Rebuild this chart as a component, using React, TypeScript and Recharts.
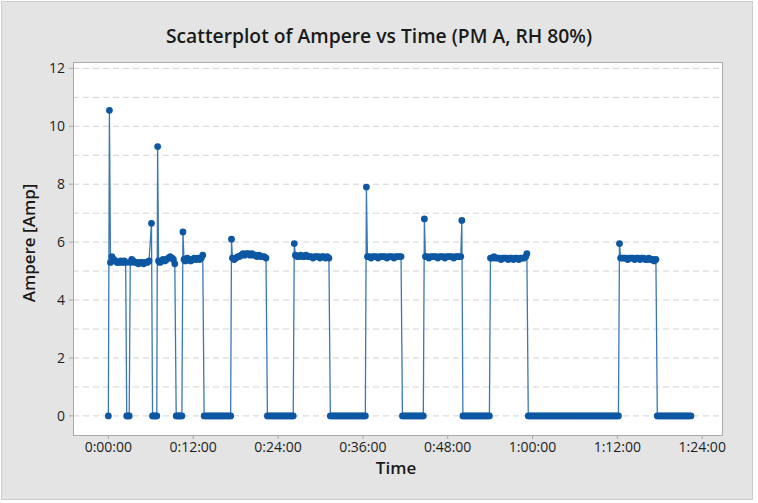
import React from "react";
import { LineChart, Line, XAxis, YAxis, CartesianGrid } from "recharts";

type P = [number, number]; // [time in minutes, ampere]

// "On" periods (including the inrush spike at the start of each)
const on01: P[] = [[0.15, 10.55], [0.3, 5.3], [0.5, 5.5], [0.75, 5.4], [1.0, 5.35], [1.25, 5.3], [1.5, 5.3], [1.75, 5.35], [2.0, 5.3], [2.25, 5.35], [2.45, 5.3]];
const on02: P[] = [[3.1, 5.3], [3.3, 5.4], [3.5, 5.35], [3.75, 5.3], [4.0, 5.3], [4.25, 5.25], [4.5, 5.3], [4.75, 5.3], [5.0, 5.25], [5.25, 5.3], [5.5, 5.3], [5.75, 5.35], [6.1, 6.65]];
const on03: P[] = [[6.97, 9.3], [7.1, 5.35], [7.3, 5.3], [7.5, 5.35], [7.75, 5.4], [8.0, 5.35], [8.25, 5.4], [8.5, 5.45], [8.75, 5.5], [9.0, 5.45], [9.2, 5.4], [9.4, 5.25]];
const on04: P[] = [[10.55, 6.35], [10.7, 5.4], [10.9, 5.35], [11.15, 5.45], [11.4, 5.4], [11.65, 5.35], [11.9, 5.4], [12.15, 5.45], [12.4, 5.4], [12.65, 5.45], [12.9, 5.4], [13.15, 5.45], [13.35, 5.55]];
const on05: P[] = [[17.42, 6.1], [17.55, 5.45], [17.8, 5.4], [18.05, 5.45], [18.3, 5.5], [18.55, 5.5], [18.8, 5.55], [19.05, 5.6], [19.3, 5.55], [19.55, 5.6], [19.8, 5.6], [20.05, 5.55], [20.3, 5.6], [20.55, 5.55], [20.8, 5.55], [21.05, 5.5], [21.3, 5.55], [21.55, 5.5], [21.8, 5.5], [22.05, 5.5], [22.3, 5.45]];
const on06: P[] = [[26.3, 5.95], [26.45, 5.55], [26.7, 5.5], [26.95, 5.5], [27.2, 5.55], [27.45, 5.5], [27.7, 5.5], [27.95, 5.55], [28.2, 5.5], [28.45, 5.5], [28.7, 5.5], [28.95, 5.45], [29.2, 5.5], [29.45, 5.5], [29.7, 5.5], [29.95, 5.45], [30.2, 5.5], [30.45, 5.5], [30.7, 5.45], [30.95, 5.5], [31.2, 5.45]];
const on07: P[] = [[36.5, 7.9], [36.65, 5.5], [36.9, 5.5], [37.15, 5.45], [37.4, 5.5], [37.65, 5.5], [37.9, 5.5], [38.15, 5.45], [38.4, 5.5], [38.65, 5.5], [38.9, 5.5], [39.15, 5.5], [39.4, 5.45], [39.65, 5.5], [39.9, 5.5], [40.15, 5.5], [40.4, 5.45], [40.65, 5.5], [40.9, 5.5], [41.15, 5.5], [41.4, 5.5]];
const on08: P[] = [[44.7, 6.8], [44.85, 5.5], [45.1, 5.5], [45.35, 5.45], [45.6, 5.5], [45.85, 5.5], [46.1, 5.5], [46.35, 5.5], [46.6, 5.45], [46.85, 5.5], [47.1, 5.5], [47.35, 5.5], [47.6, 5.45], [47.85, 5.5], [48.1, 5.5], [48.35, 5.5], [48.6, 5.5], [48.85, 5.45], [49.1, 5.5], [49.35, 5.5], [49.6, 5.5], [49.85, 5.5], [50.0, 6.75]];
const on09: P[] = [[54.05, 5.45], [54.3, 5.45], [54.55, 5.5], [54.8, 5.45], [55.05, 5.45], [55.3, 5.45], [55.55, 5.4], [55.8, 5.45], [56.05, 5.45], [56.3, 5.45], [56.55, 5.4], [56.8, 5.45], [57.05, 5.45], [57.3, 5.4], [57.55, 5.45], [57.8, 5.45], [58.05, 5.4], [58.3, 5.45], [58.55, 5.45], [58.8, 5.45], [59.05, 5.5], [59.2, 5.6]];
const on10: P[] = [[72.3, 5.95], [72.45, 5.45], [72.7, 5.45], [72.95, 5.45], [73.2, 5.45], [73.45, 5.4], [73.7, 5.45], [73.95, 5.45], [74.2, 5.45], [74.45, 5.4], [74.7, 5.45], [74.95, 5.45], [75.2, 5.4], [75.45, 5.45], [75.7, 5.45], [75.95, 5.4], [76.2, 5.4], [76.45, 5.45], [76.7, 5.4], [76.95, 5.4], [77.2, 5.35], [77.45, 5.4]];

// "Off" periods: sample times (minutes) where the current reads 0 A
const off00: number[] = [0];
const off01: number[] = [2.6, 2.8, 2.95];
const off02: number[] = [6.25, 6.45, 6.65, 6.85];
const off03: number[] = [9.6, 9.8, 10.0, 10.2, 10.4];
const off04: number[] = [13.55, 13.8, 14.05, 14.3, 14.55, 14.8, 15.05, 15.3, 15.55, 15.8, 16.05, 16.3, 16.55, 16.8, 17.05, 17.3];
const off05: number[] = [22.5, 22.75, 23.0, 23.25, 23.5, 23.75, 24.0, 24.25, 24.5, 24.75, 25.0, 25.25, 25.5, 25.75, 26.0, 26.15];
const off06: number[] = [31.4, 31.65, 31.9, 32.15, 32.4, 32.65, 32.9, 33.15, 33.4, 33.65, 33.9, 34.15, 34.4, 34.65, 34.9, 35.15, 35.4, 35.65, 35.9, 36.15, 36.35];
const off07: number[] = [41.6, 41.85, 42.1, 42.35, 42.6, 42.85, 43.1, 43.35, 43.6, 43.85, 44.1, 44.35, 44.55];
const off08: number[] = [50.15, 50.4, 50.65, 50.9, 51.15, 51.4, 51.65, 51.9, 52.15, 52.4, 52.65, 52.9, 53.15, 53.4, 53.65, 53.9];
const off09: number[] = [59.4, 59.65, 59.9, 60.15, 60.4, 60.65, 60.9, 61.15, 61.4, 61.65, 61.9, 62.15, 62.4, 62.65, 62.9, 63.15, 63.4, 63.65, 63.9, 64.15, 64.4, 64.65, 64.9, 65.15, 65.4, 65.65, 65.9, 66.15, 66.4, 66.65, 66.9, 67.15, 67.4, 67.65, 67.9, 68.15, 68.4, 68.65, 68.9, 69.15, 69.4, 69.65, 69.9, 70.15, 70.4, 70.65, 70.9, 71.15, 71.4, 71.65, 71.9, 72.15];
const off10: number[] = [77.65, 77.9, 78.15, 78.4, 78.65, 78.9, 79.15, 79.4, 79.65, 79.9, 80.15, 80.4, 80.65, 80.9, 81.15, 81.4, 81.65, 81.9, 82.15, 82.4];

const xTicks: number[] = [0, 12, 24, 36, 48, 60, 72, 84];
const yTicks: number[] = [0, 2, 4, 6, 8, 10, 12];
const yGrid: number[] = [0, 1, 2, 3, 4, 5, 6, 7, 8, 9, 10, 11, 12];

const zeros = (ts: number[]): P[] => ts.map((t) => [t, 0] as P);
const samples: P[] = [
  ...zeros(off00), ...on01, ...zeros(off01), ...on02, ...zeros(off02), ...on03,
  ...zeros(off03), ...on04, ...zeros(off04), ...on05, ...zeros(off05), ...on06,
  ...zeros(off06), ...on07, ...zeros(off07), ...on08, ...zeros(off08), ...on09,
  ...zeros(off09), ...on10, ...zeros(off10),
];
const data = samples.map(([t, a]) => ({ t, a }));

const fmtTime = (m: number) =>
  `${Math.floor(m / 60)}:${String(m % 60).padStart(2, "0")}:00`;

const FONT = "'Open Sans', 'Noto Sans', sans-serif";
const MARK = "#0D57A3";
const LINE = "#3B77B8";

export default function App() {
  return (
    <div
      style={{
        position: "absolute",
        left: 0,
        top: 0,
        width: 758,
        height: 503,
        background: "#ffffff",
        fontFamily: FONT,
        overflow: "hidden",
      }}
    >
      <div
        style={{
          position: "absolute",
          left: 1,
          top: 1,
          width: 752,
          height: 499,
          boxSizing: "border-box",
          background: "#e4e4e4",
          border: "1px solid #cdcdcd",
        }}
      />
      <div
        style={{
          position: "absolute",
          left: 0,
          width: 758,
          top: 23,
          textAlign: "center",
          fontSize: 19.3,
          fontWeight: 600,
          lineHeight: "26px",
          color: "#1a1a1a",
        }}
      >
        Scatterplot of Ampere vs Time (PM A, RH 80%)
      </div>
      <div style={{ position: "absolute", left: 0, top: 0 }}>
        <LineChart
          width={758}
          height={503}
          data={data}
          margin={{ top: 62, right: 36, bottom: 28, left: 13 }}
        >
          <CartesianGrid
            vertical={false}
            horizontalValues={yGrid}
            stroke="#d2d2d2"
            strokeDasharray="6 4"
            fill="#ffffff"
          />
          <XAxis
            type="number"
            dataKey="t"
            domain={[-5, 86.8]}
            allowDataOverflow
            ticks={xTicks}
            tickFormatter={fmtTime}
            axisLine={false}
            tickLine={{ stroke: "#a8a8a8" }}
            tickSize={4}
            tickMargin={3}
            height={40}
            tick={{ fontSize: 14, fill: "#1e1e1e", fontFamily: FONT }}
          />
          <YAxis
            type="number"
            domain={[-0.66, 12.22]}
            allowDataOverflow
            ticks={yTicks}
            axisLine={false}
            tickLine={{ stroke: "#a8a8a8" }}
            tickSize={4}
            tickMargin={4}
            width={60}
            tick={{ fontSize: 14, fill: "#1e1e1e", fontFamily: FONT }}
          />
          <Line
            type="linear"
            dataKey="a"
            stroke={LINE}
            strokeWidth={1.3}
            dot={{ r: 3.4, fill: MARK, stroke: "none" }}
            activeDot={false}
            isAnimationActive={false}
          />
        </LineChart>
      </div>
      <div
        style={{
          position: "absolute",
          left: 72.5,
          top: 62,
          width: 650,
          height: 373.5,
          boxSizing: "border-box",
          border: "1px solid #aaaaaa",
          pointerEvents: "none",
        }}
      />
      <div
        style={{
          position: "absolute",
          left: 296,
          width: 200,
          top: 456,
          textAlign: "center",
          fontSize: 17,
          fontWeight: 600,
          lineHeight: "24px",
          color: "#1a1a1a",
        }}
      >
        Time
      </div>
      <div
        style={{
          position: "absolute",
          left: 29 - 100,
          top: 243 - 12,
          width: 200,
          textAlign: "center",
          fontSize: 17,
          fontWeight: 600,
          lineHeight: "24px",
          color: "#1a1a1a",
          transform: "rotate(-90deg)",
        }}
      >
        Ampere [Amp]
      </div>
    </div>
  );
}
